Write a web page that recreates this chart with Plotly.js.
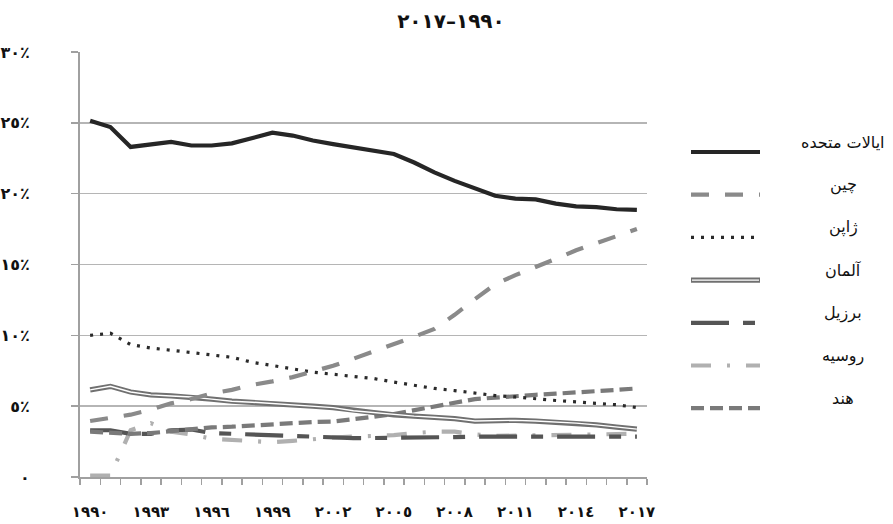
<!DOCTYPE html>
<html><head><meta charset="utf-8">
<script src="https://cdn.plot.ly/plotly-3.0.1.min.js"></script>
<style>html,body{margin:0;padding:0;background:#fff}#chart{width:893px;height:524px}</style>
</head><body><div id="chart"></div>
<script>
// ---- data ----
const years = [1990,1991,1992,1993,1994,1995,1996,1997,1998,1999,2000,2001,2002,2003,2004,2005,2006,2007,2008,2009,2010,2011,2012,2013,2014,2015,2016,2017];
const seriesNames = ['ایالات متحده','چین','ژاپن','آلمان','برزیل','روسیه','هند'];
const usa     = [25.15,24.7,23.3,23.5,23.65,23.4,23.4,23.55,23.95,24.3,24.1,23.75,23.5,23.25,23.05,22.8,22.2,21.5,20.9,20.4,19.85,19.65,19.6,19.3,19.1,19.05,18.9,18.85];
const china   = [3.95,4.2,4.4,4.75,5.2,5.5,5.9,6.15,6.5,6.75,7.05,7.45,7.85,8.35,8.85,9.35,9.9,10.45,11.45,12.55,13.6,14.25,14.8,15.4,16.0,16.5,17.0,17.5];
const japan   = [10.0,10.15,9.35,9.1,8.95,8.8,8.65,8.45,8.1,7.85,7.6,7.4,7.25,7.1,6.95,6.7,6.45,6.25,6.1,5.9,5.75,5.65,5.5,5.4,5.3,5.2,5.1,4.9];
const germany = [6.15,6.4,6.0,5.8,5.72,5.65,5.5,5.35,5.28,5.18,5.1,5.0,4.9,4.68,4.55,4.38,4.3,4.22,4.12,3.95,4.0,4.0,3.95,3.88,3.8,3.68,3.52,3.38];
const brazil  = [3.3,3.3,3.05,3.05,3.3,3.35,3.1,3.05,3.0,2.9,2.85,2.85,2.8,2.75,2.75,2.75,2.78,2.8,2.82,2.85,2.85,2.85,2.82,2.8,2.8,2.82,2.85,2.85];
const russia  = [0.1,0.1,3.3,3.8,3.2,3.0,2.7,2.6,2.5,2.45,2.55,2.7,2.78,2.85,2.9,2.95,3.1,3.2,3.2,3.0,2.9,2.92,2.95,2.98,3.0,3.02,3.03,3.05];
const india   = [3.2,3.1,3.05,3.1,3.25,3.4,3.5,3.55,3.65,3.75,3.85,3.88,3.92,4.05,4.25,4.45,4.7,4.95,5.25,5.5,5.6,5.72,5.8,5.88,5.95,6.05,6.15,6.25];
const xTickYears = [1990,1993,1996,1999,2002,2005,2008,2011,2014,2017];
const xTickText  = ['١٩٩٠','١٩٩٣','١٩٩٦','١٩٩٩','٢٠٠٢','٢٠٠٥','٢٠٠٨','٢٠١١','٢٠١٤','٢٠١٧'];
const yTickVals  = [0,5,10,15,20,25,30];
const yTickText  = ['٠','٥٪','١٠٪','١٥٪','٢٠٪','٢٥٪','٣٠٪'];
const titleText  = '۲۰۱۷–۱۹۹۰';

// ---- styles ----
const values = [usa, china, japan, germany, brazil, russia, india];
const styles = [
  {color:'#262626', width:4.2, dash:'solid'},
  {color:'#8a8a8a', width:4.2, dash:'18px,16px'},
  {color:'#2a2a2a', width:3.2, dash:'3px,7px'},
  {color:'#707070', width:5.2, dash:'solid', inner:true},
  {color:'#555555', width:4.2, dash:'38px,14px,12px,14px'},
  {color:'#b0b0b0', width:4.2, dash:'20px,16px,3px,16px'},
  {color:'#7a7a7a', width:4.2, dash:'13px,6px'}
];

const W = 893, H = 524, L = 80, R = 246, T = 52, B = 47;
const pw = W - L - R, ph = H - T - B;
const px2x = p => (p - L) / pw;
const px2y = p => (H - B - p) / ph;

const traces = [];
const drawOrder = [5,4,6,3,2,1,0];
drawOrder.forEach(i => {
  const s = styles[i];
  traces.push({x: years, y: values[i], type:'scatter', mode:'lines', name: seriesNames[i],
    line:{color:s.color, width:s.width, dash:s.dash}, hoverinfo:'skip', showlegend:false});
  if (s.inner) {
    traces.push({x: years, y: values[i], type:'scatter', mode:'lines', name: seriesNames[i],
      line:{color:'#ffffff', width:1.4}, hoverinfo:'skip', showlegend:false});
  }
});

// ---- custom legend (line sample + centered label) ----
const shapes = [], annotations = [];
const legTop = 152, legStep = 42.7;
seriesNames.forEach((nm, i) => {
  const s = styles[i];
  const yl = legTop + i * legStep;
  shapes.push({type:'line', xref:'paper', yref:'paper', x0:px2x(691), x1:px2x(760), y0:px2y(yl), y1:px2y(yl),
    line:{color:s.color, width:s.width, dash:s.dash}});
  if (s.inner) shapes.push({type:'line', xref:'paper', yref:'paper', x0:px2x(692), x1:px2x(759), y0:px2y(yl), y1:px2y(yl),
    line:{color:'#ffffff', width:1.4}});
  annotations.push({text:nm, xref:'paper', yref:'paper', x:px2x(843), y:px2y(yl - 10), xanchor:'center', yanchor:'middle',
    showarrow:false, font:{family:'DejaVu Sans', size:16, color:'#111'}});
});

const layout = {
  width: W, height: H,
  margin:{l:L, r:R, t:T, b:B, pad:0},
  paper_bgcolor:'#fff', plot_bgcolor:'#fff',
  showlegend:false,
  title:{text:titleText, xref:'container', x:0.505, xanchor:'center', yref:'container', y:1-21/H, yanchor:'middle',
    font:{family:'DejaVu Sans', size:20, weight:'bold', color:'#111'}},
  font:{family:'DejaVu Sans', color:'#111'},
  xaxis:{type:'linear', range:[1989.5, 2017.5], tickmode:'array', tickvals:xTickYears, ticktext:xTickText,
    ticks:'', showgrid:false, zeroline:false, showline:true, linecolor:'#a0a0a0', linewidth:2,
    ticklabelstandoff:20, tickfont:{family:'DejaVu Sans', size:15, weight:'bold', color:'#111'},
    minor:{tickmode:'linear', tick0:1989.5, dtick:1, ticks:'outside', ticklen:6, tickwidth:1.5, tickcolor:'#a0a0a0', showgrid:false}},
  yaxis:{range:[0,30], tickmode:'array', tickvals:yTickVals, ticktext:yTickText,
    ticks:'outside', ticklen:7, tickwidth:1.5, tickcolor:'#a0a0a0',
    showgrid:true, gridcolor:'#b5b5b5', gridwidth:1.5, zeroline:false, showline:true, linecolor:'#a0a0a0', linewidth:2,
    ticklabelstandoff:38, tickfont:{family:'DejaVu Sans', size:16, weight:'bold', color:'#111'}},
  shapes: shapes,
  annotations: annotations
};

Plotly.newPlot('chart', traces, layout, {displayModeBar:false, staticPlot:true});
</script></body></html>
